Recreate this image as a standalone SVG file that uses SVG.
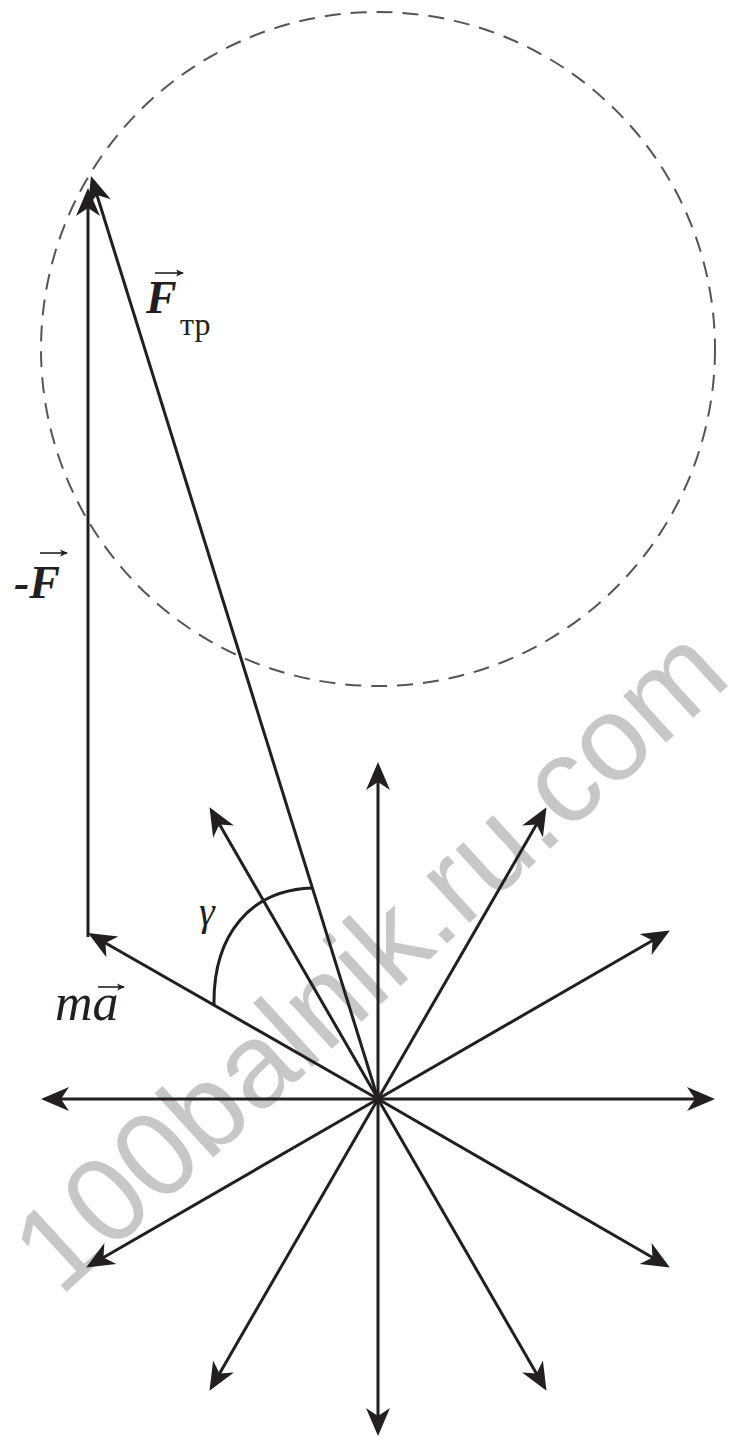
<svg xmlns="http://www.w3.org/2000/svg" width="740" height="1439" viewBox="0 0 740 1439">
<style>
.v{stroke:#231f20;stroke-width:3;fill:none;marker-end:url(#ah)}
.ln{stroke:#231f20;stroke-width:3;fill:none}
.lbl{font-family:"Liberation Serif","DejaVu Serif",serif;fill:#231f20}
.ov{stroke:#231f20;stroke-width:1.6;fill:none}
.wm{font-family:"Liberation Sans",Arial,sans-serif;fill:#c5c7c8}
</style>
<defs>
<marker id="ah" viewBox="-26 -14 32 28" refX="0" refY="0" markerWidth="32" markerHeight="28" markerUnits="userSpaceOnUse" orient="auto">
<path d="M4,0 L-24,-12 L-16,0 L-24,12 Z" fill="#231f20"/>
</marker>
<marker id="sh" viewBox="-8 -4 10 8" refX="0" refY="0" markerWidth="10" markerHeight="8" markerUnits="userSpaceOnUse" orient="auto">
<path d="M1,0 L-7,-3.5 L-5,0 L-7,3.5 Z" fill="#231f20"/>
</marker>
</defs>
<rect width="740" height="1439" fill="#ffffff"/>
<g id="watermark">
<text class="wm" transform="translate(60,1298) rotate(-42.5)" font-size="120">100balnik.ru.com</text>
</g>
<g id="circle">
<circle cx="378" cy="349" r="337" fill="none" stroke="#555" stroke-width="2" stroke-dasharray="16 10"/>
</g>
<g id="connectors">
<line class="v" x1="378" y1="1099" x2="711" y2="1099"/>
<line class="v" x1="378" y1="1099" x2="666.4" y2="932.5"/>
<line class="v" x1="378" y1="1099" x2="544.5" y2="810.6"/>
<line class="v" x1="378" y1="1099" x2="378" y2="766"/>
<line class="v" x1="378" y1="1099" x2="211.5" y2="810.6"/>
<line class="v" x1="378" y1="1099" x2="45" y2="1099"/>
<line class="v" x1="378" y1="1099" x2="89.6" y2="1265.5"/>
<line class="v" x1="378" y1="1099" x2="211.5" y2="1387.4"/>
<line class="v" x1="378" y1="1099" x2="378" y2="1432"/>
<line class="v" x1="378" y1="1099" x2="544.5" y2="1387.4"/>
<line class="v" x1="378" y1="1099" x2="666.4" y2="1265.5"/>
<line id="ma" class="v" x1="378" y1="1099" x2="91.5" y2="935"/>
<line id="minusF" class="v" x1="88" y1="937" x2="88" y2="192"/>
<line id="Ftr" class="v" x1="378" y1="1099" x2="92.2" y2="179.8"/>
<path id="gamma-arc" class="ln" d="M214,1005 C213,935 250,890 312,888" stroke-width="2.5"/>
</g>
<g id="label-Ftr">
<text class="lbl" x="146" y="313" font-size="46" font-style="italic" font-weight="bold">F</text>
<text class="lbl" x="180" y="335" font-size="32">тр</text>
<line class="ov" x1="155" y1="273" x2="183" y2="273" marker-end="url(#sh)"/>
</g>
<g id="label-minusF">
<text class="lbl" x="14" y="598" font-size="46" font-style="italic" font-weight="bold">-F</text>
<line class="ov" x1="40" y1="553" x2="67" y2="553" marker-end="url(#sh)"/>
</g>
<g id="label-gamma">
<text class="lbl" x="199" y="925" font-size="40" font-style="italic">γ</text>
</g>
<g id="label-ma">
<text class="lbl" x="55" y="1020" font-size="52" font-style="italic">ma</text>
<line class="ov" x1="98" y1="987" x2="124" y2="987" marker-end="url(#sh)"/>
</g>
</svg>
